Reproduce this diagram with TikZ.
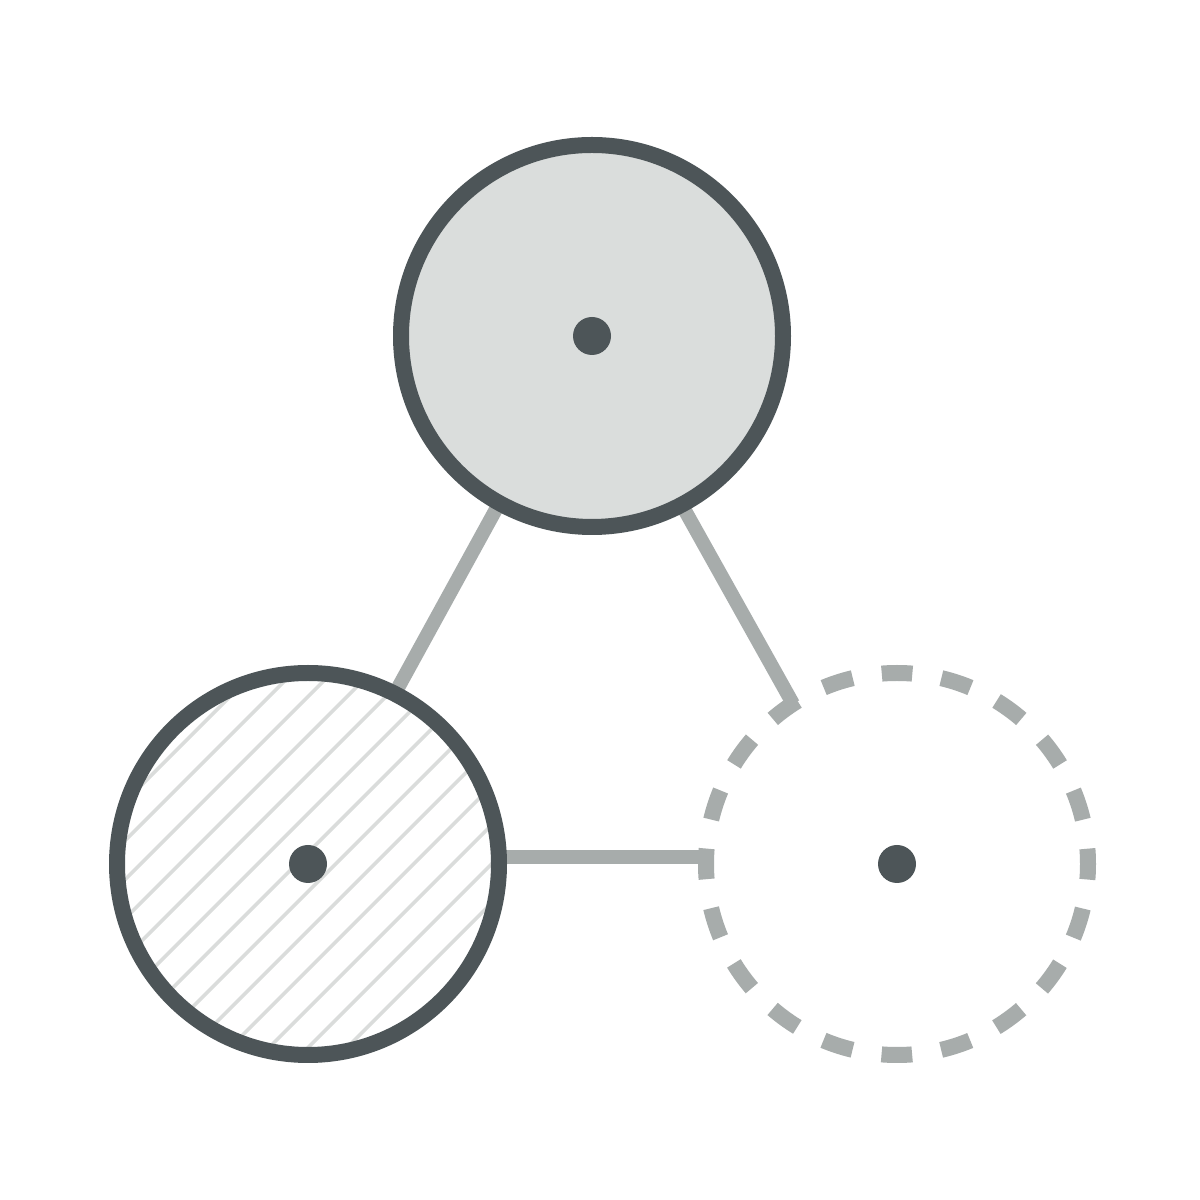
\documentclass[tikz,border=0pt]{standalone}
\usetikzlibrary{backgrounds,calc}
\definecolor{ringc}{HTML}{4D5558}
\definecolor{fillc}{HTML}{DADDDC}
\definecolor{linkc}{HTML}{A7ACAB}
\definecolor{hatchc}{HTML}{DADCDB}
\begin{document}
\begin{tikzpicture}[x=1pt,y=1pt,
  ring/.style={circle, inner sep=0pt, outer sep=0pt, minimum size=382pt, line width=16pt},
  solidring/.style={ring, draw=ringc},
  dashring/.style={ring, draw=linkc, dash pattern=on 30.6pt off 29.4pt, dash phase=15.3pt},
  link/.style={draw=linkc, line width=14pt},
  hubdot/.style={circle, fill=ringc, inner sep=0pt, outer sep=0pt, minimum size=38pt},
  hatchline/.style={draw=hatchc, line width=3.5pt}]
\useasboundingbox (0,0) rectangle (1200,1200);
\node[solidring, fill=fillc] (top) at (592,864) {};
\node[solidring, fill=white, path picture={
  \foreach \k in {-7,...,7}{
    \draw[hatchline] ($(path picture bounding box.center)+({(\k*39-11.3)/2},{-(\k*39-11.3)/2})+(-260,-260)$) -- ++(520,520);
  }}] (bl) at (308,336) {};
\node[dashring] (dc) at (897,336) {};
\node[hubdot] (topdot) at (top) {};
\node[hubdot] (bldot) at (bl) {};
\node[hubdot] (dcdot) at (dc) {};
\begin{scope}[on background layer]
  \fill[white] (0,0) rectangle (1200,1200);
  \draw[link] (top.241.4) -- (bl.63);
  \draw[link] (top.298.6) -- (dc.123.2);
  \draw[link] ($(bl.east)+(0,7)$) -- ($(dc.west)+(0,7)$);
\end{scope}
\end{tikzpicture}
\end{document}
